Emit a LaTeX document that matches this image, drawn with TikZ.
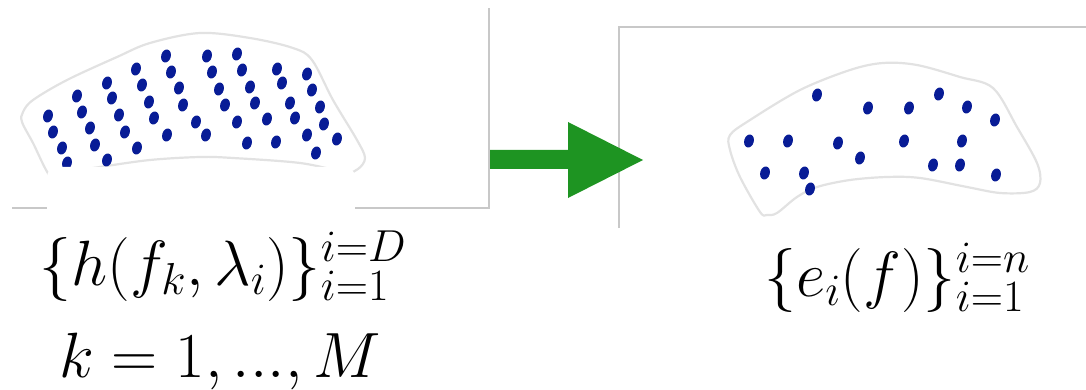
\documentclass[tikz,border=0pt]{standalone}
\usepackage{fix-cm}
\definecolor{framegray}{RGB}{200,200,200}
\definecolor{blobgray}{RGB}{226,226,226}
\definecolor{dotblue}{RGB}{8,28,150}
\definecolor{arrowgreen}{RGB}{30,148,34}
\tikzset{
  frameline/.style={draw=framegray, line width=2pt},
  blobline/.style={draw=blobgray, line width=2.2pt, fill=white},
  dotmark/.style={fill=dotblue},
  mathlabel/.style={inner sep=0pt, anchor=base, font=\fontsize{64}{72}\selectfont},
}
\newcommand{\mydot}[2]{\fill[dotmark] (#1,#2) ellipse [x radius=4.8pt, y radius=6.6pt, rotate=-15];}
\begin{document}
\begin{tikzpicture}[x=1pt,y=-1pt]
\useasboundingbox (0,0) rectangle (1086,390);
% left blob
\draw[blobline] plot[smooth cycle, tension=0.55] coordinates {
 (23,112) (33,100) (67,80) (117,57) (150,43) (200,33) (250,38) (293,48) (312,60)
 (333,100) (357,140) (365,158) (358,169) (345,172)
 (300,163) (233,158) (200,157) (150,160) (100,167) (62,173) (50,176)
 (33,143) (22,122)};
\foreach \x/\y in {
 48/116, 53/132, 62/148, 67/163,
 77/96, 82/112, 90/128, 95/145, 107/160,
 107/83, 112/98, 119/115, 125/132, 137/148,
 136/69, 142/85, 149/102, 154/118, 167/135,
 166/56, 171/72, 179/88, 183/105, 196/122, 206/135,
 207/56, 212/72, 219/89, 225/105, 237/122, 247/143,
 237/54, 242/70, 250/87, 255/103, 267/119, 276/142,
 277/69, 282/83, 290/103, 295/118, 307/135, 316/153,
 307/74, 312/90, 320/107, 324/124, 337/139}
 {\mydot{\x}{\y}}
% white cover of the label area
\fill[white, rounded corners=10pt] (47,167) rectangle (355,230);
% left frame
\draw[frameline] (12,208) -- (47,208);
\draw[frameline] (355,208) -- (489,208) -- (489,8);
% right frame
\draw[frameline] (619,228) -- (619,27) -- (1086,27);
% right blob
\draw[blobline] plot[smooth cycle, tension=0.55] coordinates {
 (730,135) (750,120) (800,90) (850,70) (883,63) (917,65) (960,77) (993,88)
 (1017,127) (1037,163) (1040,183) (1030,192) (1000,193)
 (967,187) (920,178) (887,177) (850,180) (817,187) (797,197) (777,213) (767,215) (760,212)
 (740,177) (730,150)};
\foreach \x/\y in {
 817/95, 868/108, 909/108, 939/94, 967/107, 995/120,
 749/141, 788/141, 838/143, 904/141, 962/141, 860/158,
 765/173, 804/173, 810/189, 933/165, 960/165, 996/175}
 {\mydot{\x}{\y}}
% arrow
\coordinate (aL) at (490,160);
\coordinate (aT) at (643,160);
\fill[arrowgreen] (490,150) -- (568,150) -- (568,122) -- (aT) -- (568,198) -- (568,169) -- (490,169) -- cycle;
% labels
\node[mathlabel] (lblL) at (223,285) {$\{h(f_k,\lambda_i)\}_{i=1}^{i=D}$};
\node[mathlabel] (lblK) at (220,377) {$k=1,...,M$};
\node[mathlabel] (lblR) at (897,296) {$\{e_i(f)\}_{i=1}^{i=n}$};
\end{tikzpicture}
\end{document}
